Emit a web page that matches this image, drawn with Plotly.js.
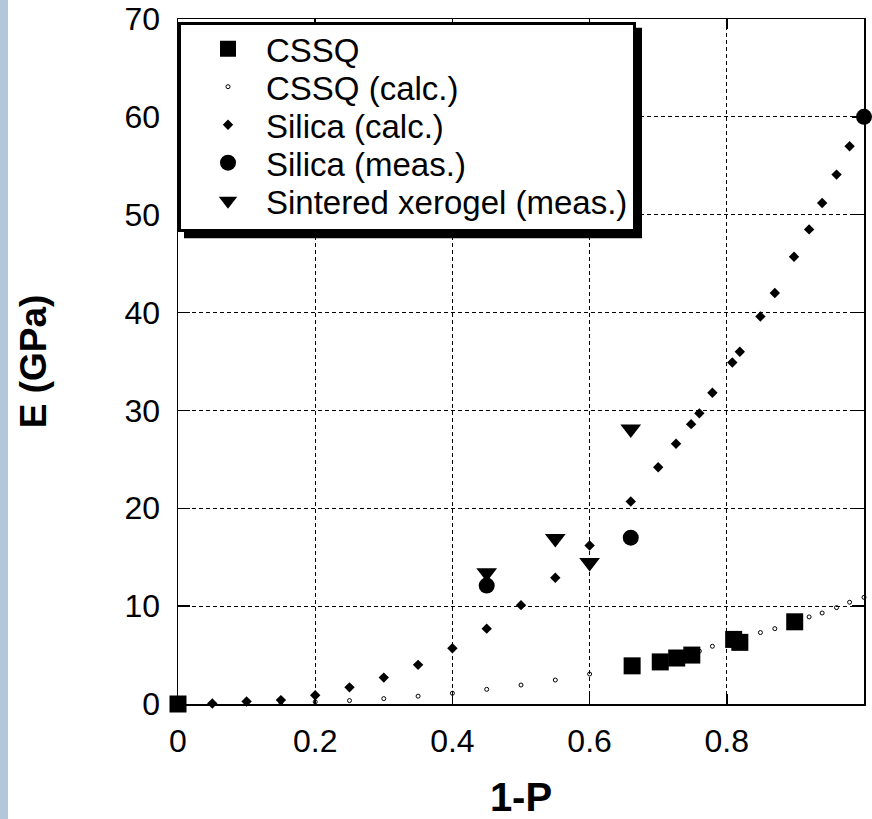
<!DOCTYPE html>
<html>
<head>
<meta charset="utf-8">
<script src="https://cdn.plot.ly/plotly-3.0.1.min.js"></script>
<style>
  html, body { margin: 0; padding: 0; background: #ffffff; }
  #wrap { position: relative; width: 872px; height: 819px; }
  #bar { position: absolute; left: 0; top: 0; width: 8px; height: 819px; background: #b3c7dc; z-index: 5; }
  #chart { position: absolute; left: 0; top: 0; width: 872px; height: 819px; }
</style>
</head>
<body>
<div id="wrap"><div id="chart"></div><div id="bar"></div></div>
<script>
// ---- data ----
const cssqX = [0, 0.662, 0.703, 0.727, 0.749, 0.810, 0.819, 0.899];
const cssqY = [0, 3.9, 4.3, 4.7, 5.0, 6.6, 6.3, 8.4];

const cssqCalcX = [0, 0.05, 0.1, 0.15, 0.2, 0.25, 0.3, 0.35, 0.4, 0.45, 0.5, 0.55, 0.6, 0.66, 0.70, 0.726, 0.748, 0.76, 0.779, 0.808, 0.819, 0.849, 0.87, 0.898, 0.92, 0.939, 0.96, 0.979, 1.0];
const cssqCalcY = [0, 0.04, 0.09, 0.15, 0.22, 0.35, 0.55, 0.8, 1.1, 1.5, 1.94, 2.45, 3.06, 3.9, 4.4, 4.8, 5.2, 5.4, 5.9, 6.5, 6.8, 7.3, 7.7, 8.4, 8.9, 9.3, 9.85, 10.4, 10.9];

const silicaCalcX = [0, 0.05, 0.1, 0.15, 0.2, 0.25, 0.3, 0.35, 0.4, 0.45, 0.5, 0.55, 0.6, 0.66, 0.70, 0.726, 0.748, 0.76, 0.779, 0.808, 0.819, 0.849, 0.87, 0.898, 0.92, 0.939, 0.96, 0.979, 1.0];
const silicaCalcY = [0, 0.05, 0.25, 0.4, 0.9, 1.7, 2.7, 4.0, 5.7, 7.7, 10.1, 12.9, 16.2, 20.7, 24.2, 26.6, 28.6, 29.7, 31.8, 34.9, 36.0, 39.6, 42.0, 45.7, 48.5, 51.2, 54.1, 57.0, 60.0];

const silicaMeasX = [0.45, 0.66, 1.0];
const silicaMeasY = [12.1, 17.0, 60.0];

const xerogelX = [0.45, 0.55, 0.60, 0.66];
const xerogelY = [13.4, 16.9, 14.45, 28.1];

const seriesNames = ["CSSQ", "CSSQ (calc.)", "Silica (calc.)", "Silica (meas.)", "Sintered xerogel (meas.)"];
const xTitle = "1-P";
const yTitle = "E (GPa)";
const xTicks = [0, 0.2, 0.4, 0.6, 0.8, 1];
const xTickText = ["0", "0.2", "0.4", "0.6", "0.8", "1"];
const yTicks = [0, 10, 20, 30, 40, 50, 60, 70];

const FONT = "Arial, 'Liberation Sans', sans-serif";

const traces = [
  { x: cssqX, y: cssqY, name: seriesNames[0], type: "scatter", mode: "markers", cliponaxis: false,
    marker: { symbol: "square", size: 17, color: "#000" } },
  { x: cssqCalcX, y: cssqCalcY, name: seriesNames[1], type: "scatter", mode: "markers", cliponaxis: false,
    marker: { symbol: "circle-open", size: 4, color: "#000", line: { width: 1, color: "#000" } } },
  { x: silicaCalcX, y: silicaCalcY, name: seriesNames[2], type: "scatter", mode: "markers", cliponaxis: false,
    marker: { symbol: "diamond", size: 8, color: "#000" } },
  { x: silicaMeasX, y: silicaMeasY, name: seriesNames[3], type: "scatter", mode: "markers", cliponaxis: false,
    marker: { symbol: "circle", size: 16, color: "#000" } },
  { x: xerogelX, y: xerogelY, name: seriesNames[4], type: "scatter", mode: "markers", cliponaxis: false,
    marker: { symbol: "triangle-down", size: 18, color: "#000" } }
];

const layout = {
  width: 872, height: 819,
  margin: { l: 178, r: 8, t: 19, b: 115, pad: 0 },
  paper_bgcolor: "#fff", plot_bgcolor: "#fff",
  font: { family: FONT, color: "#000", size: 32 },
  showlegend: true,
  legend: {
    x: 0, xanchor: "left", y: 0.996, yanchor: "top",
    bgcolor: "#fff", bordercolor: "#000", borderwidth: 3,
    font: { family: FONT, size: 33, color: "#000" },
    itemwidth: 66, indentation: 9, tracegroupgap: 0
  },
  xaxis: {
    range: [0, 1], tickvals: xTicks, ticktext: xTickText,
    showline: true, linecolor: "#000", linewidth: 1.5, mirror: "ticks",
    ticks: "inside", ticklen: 10, tickwidth: 1.5, tickcolor: "#000",
    showgrid: true, gridcolor: "#000", gridwidth: 1, griddash: "4px,3px",
    zeroline: false, ticklabelstandoff: 8,
    tickfont: { family: FONT, size: 32, color: "#000" },
    title: { text: "<b>" + xTitle + "</b>", font: { family: FONT, size: 40, color: "#000" }, standoff: 28 }
  },
  yaxis: {
    range: [0, 70], tickvals: yTicks,
    showline: true, linecolor: "#000", linewidth: 1.5, mirror: "ticks",
    ticks: "inside", ticklen: 12, tickwidth: 1.5, tickcolor: "#000",
    showgrid: true, gridcolor: "#000", gridwidth: 1, griddash: "4px,3px",
    zeroline: false, ticklabelstandoff: 10,
    tickfont: { family: FONT, size: 32, color: "#000" },
    title: { text: "<b>" + yTitle + "</b>", font: { family: FONT, size: 37, color: "#000" }, standoff: 66 }
  }
};

function parseTranslate(t) {
  const m = /translate\(\s*([-\d.e]+)[ ,]+([-\d.e]+)\s*\)/.exec(t || "");
  return m ? [parseFloat(m[1]), parseFloat(m[2])] : [0, 0];
}

Plotly.newPlot("chart", traces, layout, { displayModeBar: false, staticPlot: true }).then(function (gd) {
  const fl = gd._fullLayout;
  const lg = fl.legend;
  const w = lg._width, h = lg._height;
  const ROW = 38;
  // compact legend rows
  const items = gd.querySelectorAll(".legend .traces");
  let newH = h;
  if (items.length > 1) {
    const p0 = parseTranslate(items[0].getAttribute("transform"));
    const p1 = parseTranslate(items[1].getAttribute("transform"));
    const rowH = p1[1] - p0[1];
    const shift = -4; // nudge rows up slightly
    items.forEach(function (el, i) {
      const p = parseTranslate(el.getAttribute("transform"));
      el.setAttribute("transform", "translate(" + p[0] + "," + (p0[1] + i * ROW + shift) + ")");
    });
    newH = h - (items.length - 1) * (rowH - ROW) - 4;
    const bg = gd.querySelector(".legend rect.bg");
    if (bg) bg.setAttribute("height", newH - lg.borderwidth);
    const clip = document.querySelector("#legend" + fl._uid + " rect") || null;
    if (clip) clip.setAttribute("height", newH);
  }
  const pw = fl._size.w, ph = fl._size.h;
  const off = 6;
  Plotly.relayout(gd, {
    shapes: [{
      type: "rect", xref: "paper", yref: "paper", layer: "above",
      x0: lg.x + off / pw, x1: lg.x + (w + off) / pw,
      y0: lg.y - (newH + off) / ph, y1: lg.y - off / ph,
      fillcolor: "#000", line: { width: 0 }
    }]
  });
});
</script>
</body>
</html>
